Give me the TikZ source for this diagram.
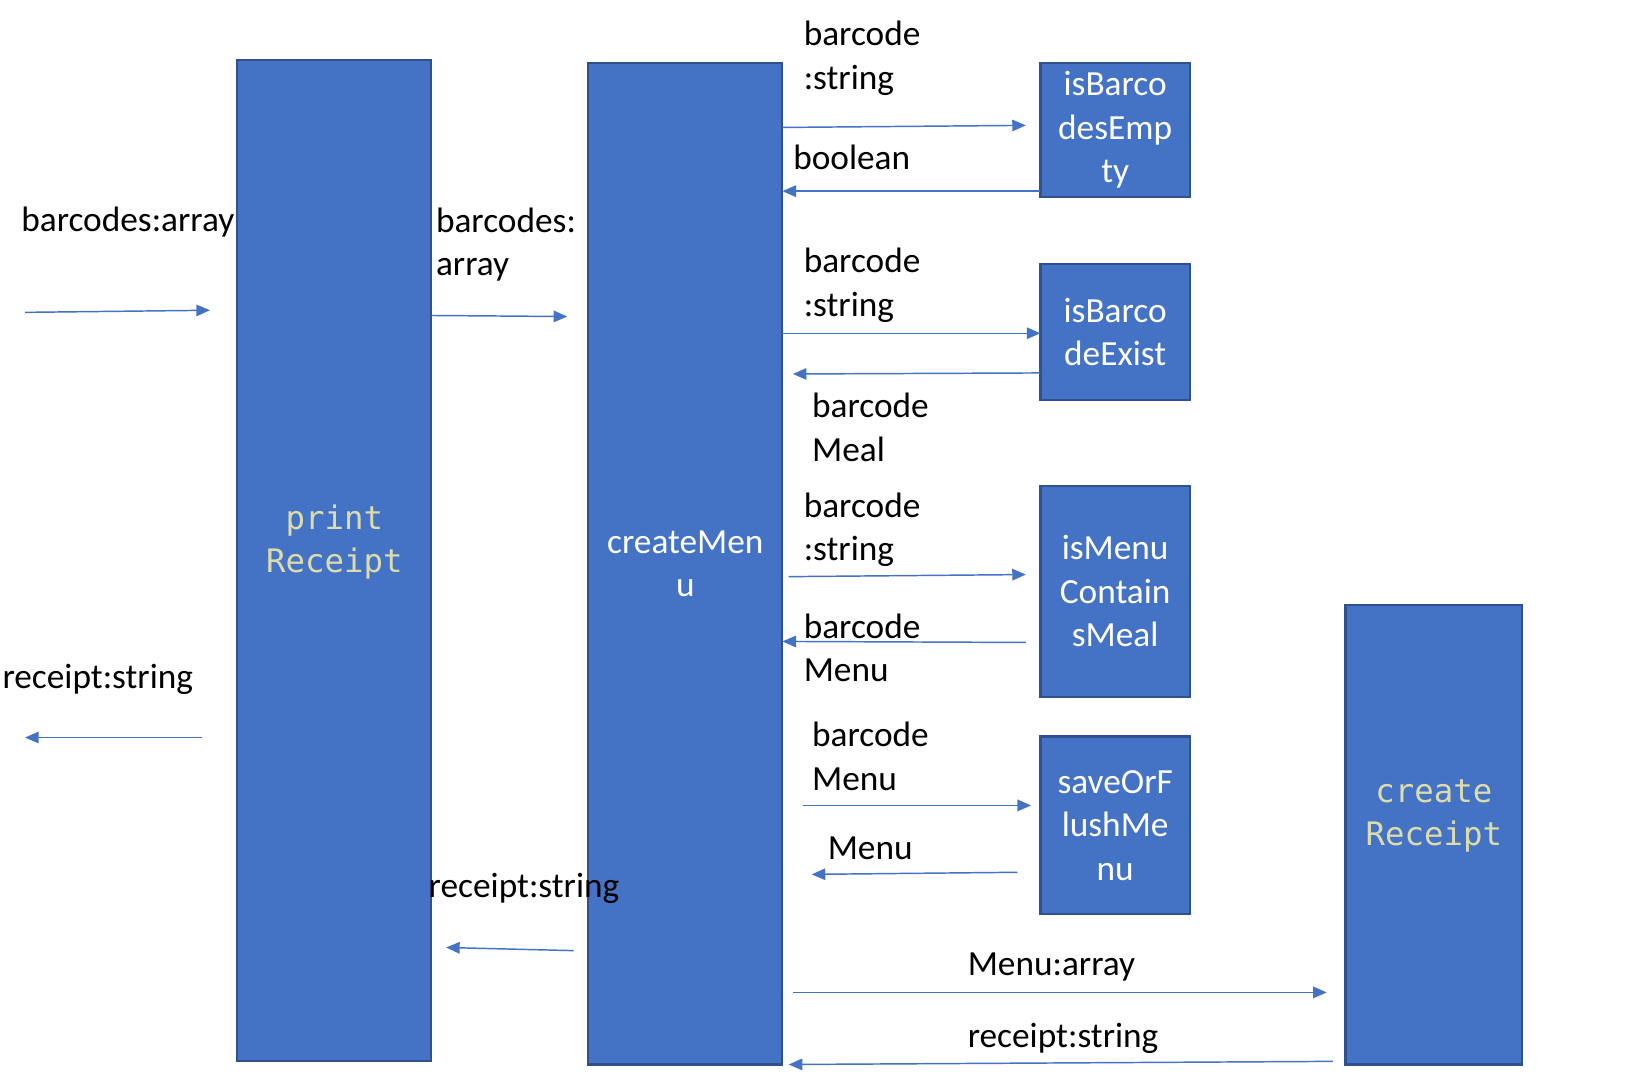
\documentclass[tikz,border=0pt]{standalone}
\usepackage{fontspec}
\setmainfont{Carlito}
\newfontfamily\codefont{DejaVu Sans Mono}
\usetikzlibrary{arrows.meta}
\definecolor{boxblue}{HTML}{4472C4}
\definecolor{boxedge}{HTML}{2F528F}
\definecolor{codeyellow}{HTML}{DCDCAA}

\begin{document}
\begin{tikzpicture}[
        x=0.5pt, y=-0.5pt,
        func/.style={rectangle, draw=boxedge, line width=1pt, fill=boxblue, text=white, align=center, inner sep=0pt, font=\fontsize{16.9}{20.8}\selectfont},
        code_text/.style={text=codeyellow, align=center, inner sep=0pt, font=\codefont\fontsize{15.5}{20.5}\selectfont},
        msg/.style={draw=boxblue, line width=0.7pt, -{Triangle[length=6.5pt,width=5.5pt]}},
        msg_label/.style={anchor=west, align=left, inner sep=0pt, font=\fontsize{16.9}{20.8}\selectfont}
    ]

        \fill[white] (0,0) rectangle (1568,1033);
        \useasboundingbox (0,0) rectangle (1568,1033);

        % Lifelines
        \node[func, minimum width=93pt, minimum height=479.5pt] (printR) at (320,536.5) {};
        \node[code_text] (printR_text) at (320,519) {print\\Receipt};
        \node[func, minimum width=93pt, minimum height=479.5pt] (createM) at (656,539.5) {createMen\\u};
        \node[func, minimum width=84.5pt, minimum height=220pt] (createR) at (1372.5,799) {};
        \node[code_text] (createR_text) at (1372.5,781) {create\\Receipt};

        % Helper functions
        \node[func, minimum width=71.5pt, minimum height=64.5pt] (isEmpty) at (1067.5,124.5) {isBarco\\desEmp\\ty};
        \node[func, minimum width=71.5pt, minimum height=65pt] (isExist) at (1067.5,318) {isBarco\\deExist};
        \node[func, minimum width=71.5pt, minimum height=101pt] (isContains) at (1067.5,566) {isMenu\\Contain\\sMeal};
        \node[func, minimum width=71.5pt, minimum height=85pt] (saveFlush) at (1067.5,790) {saveOrF\\lushMe\\nu};

        % Message ends
        \coordinate (in_s) at (24,299);    \coordinate (in_e) at (201,297);
        \coordinate (out_s) at (193,706);  \coordinate (out_e) at (24,706);
        \coordinate (cm_s) at (413,302);   \coordinate (cm_e) at (543,303);
        \coordinate (cmr_s) at (549,910);  \coordinate (cmr_e) at (427,907);
        \coordinate (em_s) at (749,122);   \coordinate (em_e) at (982,120);
        \coordinate (emr_s) at (996,183);  \coordinate (emr_e) at (749,183);
        \coordinate (ex_s) at (749,319);   \coordinate (ex_e) at (996,319);
        \coordinate (exr_s) at (996,357);  \coordinate (exr_e) at (759,358);
        \coordinate (co_s) at (755,552);   \coordinate (co_e) at (982,550);
        \coordinate (cor_s) at (982,615);  \coordinate (cor_e) at (749,614);
        \coordinate (sf_s) at (769,771);   \coordinate (sf_e) at (987,771);
        \coordinate (sfr_s) at (974,835);  \coordinate (sfr_e) at (777,837);
        \coordinate (cr_s) at (759,950);   \coordinate (cr_e) at (1270,950);
        \coordinate (crr_s) at (1276,1016); \coordinate (crr_e) at (755,1019);

        % Messages
        \draw[msg] (in_s) -- (in_e);
        \draw[msg] (out_s) -- (out_e);
        \draw[msg] (cm_s) -- (cm_e);
        \draw[msg] (cmr_s) -- (cmr_e);
        \draw[msg] (em_s) -- (em_e);
        \draw[msg] (emr_s) -- (emr_e);
        \draw[msg] (ex_s) -- (ex_e);
        \draw[msg] (exr_s) -- (exr_e);
        \draw[msg] (co_s) -- (co_e);
        \draw[msg] (cor_s) -- (cor_e);
        \draw[msg] (sf_s) -- (sf_e);
        \draw[msg] (sfr_s) -- (sfr_e);
        \draw[msg] (cr_s) -- (cr_e);
        \draw[msg] (crr_s) -- (crr_e);

        % Labels
        \node[msg_label] (in_label) at (20,213) {barcodes:array};
        \node[msg_label] (out_label) at (2,650) {receipt:string};
        \node[msg_label] (cm_label) at (417,234) {barcodes:\\array};
        \node[msg_label] (cmr_label) at (410,850) {receipt:string};
        \node[msg_label] (em_label) at (769,56) {barcode\\:string};
        \node[msg_label] (emr_label) at (759,151) {boolean};
        \node[msg_label] (ex_label) at (769,273) {barcode\\:string};
        \node[msg_label] (exr_label) at (777,409) {barcode\\Meal};
        \node[msg_label] (co_label) at (769,507) {barcode\\:string};
        \node[msg_label] (cor_label) at (769,620) {barcode\\Menu};
        \node[msg_label] (sf_label) at (777,724) {barcode\\Menu};
        \node[msg_label] (sfr_label) at (792,812) {Menu};
        \node[msg_label] (cr_label) at (926,926) {Menu:array};
        \node[msg_label] (crr_label) at (926,994) {receipt:string};

\end{tikzpicture}
\end{document}
